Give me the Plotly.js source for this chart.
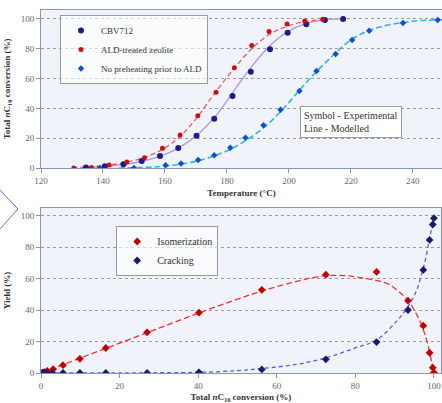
<!DOCTYPE html>
<html><head><meta charset="utf-8">
<script src="https://cdn.plot.ly/plotly-3.0.1.min.js"></script>
<style>html,body{margin:0;padding:0;background:#fff}#c{width:442px;height:403px}</style>
</head><body><div id="c"></div>
<script>
// ---- Top chart: conversion vs temperature (experimental points)
const cbvT = [134.5,140.6,146.6,152.5,158.4,164.3,170.2,175.9,181.8,187.7,193.9,199.6,205.6,211.6,217.5];
const cbvY = [0.4,1.1,2.5,4.7,8.0,13.4,21.7,33.1,48.3,64.6,79.7,90.8,96.4,99.3,100];
const aldT = [130.6,136.3,142.0,147.7,153.4,159.2,164.9,170.6,176.5,182.4,188.0,193.6,199.4,205.1,210.9];
const aldY = [0,0.4,2.0,4.0,6.9,13.2,22.1,35.1,50.8,67.3,82.1,91.5,96.6,98.7,99.8];
const npT = [139.0,150.0,160.2,165.2,170.7,175.9,181.1,186.0,191.8,197.3,203.4,208.9,215.1,220.4,225.9,236.8,248.0];
const npY = [0,0,1.8,3.1,5.4,8.5,13.6,20.3,28.6,39.1,51.7,65.1,76.5,85.9,92.1,97.3,99.3];
// modelled lines
const cbvLT = [134,140,146,152,158,164,170,176,180,184,188,192,196,200,205,210,217];
const cbvLY = [0.4,1,2.2,4.2,7.6,13,21.5,34,45,57,68,78,86,92,96.5,99,100];
const aldLT = [130,136,142,148,154,160,165,170,176,182,188,194,200,206,211];
const aldLY = [0.3,0.8,2,4,7.5,13.5,21.5,33,50,66,80,90,95.5,98.5,99.5];
const npLT = [145,155,160,165,170,175,180,185,190,195,200,205,210,215,220,225,230,240,250];
const npLY = [0,0.5,1.3,2.6,4.5,7.5,11.5,17,24,33,44,56,67,77,86,91.5,95,98.5,99.5];
// ---- Bottom chart: yield vs conversion
const isoX = [0.3,0.8,1.6,3.1,5.6,9.9,16.5,27,40.2,56.2,72.5,85.4,93.4,97.3,98.9,99.7,100];
const isoY = [0.2,0.5,1.3,2.4,5,9,15.9,25.9,38.4,52.9,62.6,64.3,46,30.1,12.9,3.4,0.3];
const crkX = [0.4,0.8,1.4,2.9,5.6,9.9,16.5,27,40.2,56.2,72.5,85.4,93.4,97.3,98.9,99.7,100];
const crkY = [0,0,0,0,0,0,0,0,0.4,2.3,8.7,19.7,40.1,65.6,84.7,94.5,98.5];
const isoLX = [0,10,20,30,40,50,56,63,71,77,83,88,91,93.3,95,96.7,98,98.8,99.5,100];
const isoLY = [0,9.5,19,28.5,38,47,52,57,61.5,62,60,57,52,46.5,40,31.6,22,14.6,6,0];
const crkLX = [0,20,40,50,56,65,72.5,80,85.4,90.8,93.4,95.5,96.7,98,98.8,99.5,100];
const crkLY = [0,0.1,0.4,1.5,2.8,5.5,9.6,16,21,33.8,42.3,52,61.3,74,84.7,93,98.5];

const serif = '"Liberation Serif", "DejaVu Serif", serif';
const traces = [
  {x:cbvLT,y:cbvLY,mode:'lines',line:{color:'#a898e0',width:1.3,shape:'spline'},showlegend:false,xaxis:'x',yaxis:'y',hoverinfo:'skip'},
  {x:aldLT,y:aldLY,mode:'lines',line:{color:'#f05a5a',width:1.3,dash:'5px,3px',shape:'spline'},showlegend:false,xaxis:'x',yaxis:'y',hoverinfo:'skip'},
  {x:npLT,y:npLY,mode:'lines',line:{color:'#2fb4e0',width:1.6,dash:'6px,3px',shape:'spline'},showlegend:false,xaxis:'x',yaxis:'y',hoverinfo:'skip'},
  {x:cbvT,y:cbvY,mode:'markers',name:'CBV712',marker:{color:'#1c1c8a',size:6,symbol:'circle'},xaxis:'x',yaxis:'y',legend:'legend'},
  {x:aldT,y:aldY,mode:'markers',name:'ALD-treated zeolite',marker:{color:'#c81010',size:5,symbol:'circle'},xaxis:'x',yaxis:'y',legend:'legend'},
  {x:npT,y:npY,mode:'markers',name:'No preheating prior to ALD',marker:{color:'#1050d0',size:5,symbol:'diamond'},xaxis:'x',yaxis:'y',legend:'legend'},
  {x:isoLX,y:isoLY,mode:'lines',line:{color:'#f03030',width:1.3,dash:'6px,3px',shape:'spline'},showlegend:false,xaxis:'x2',yaxis:'y2',hoverinfo:'skip'},
  {x:crkLX,y:crkLY,mode:'lines',line:{color:'#5c5ce0',width:1.3,dash:'4px,3px',shape:'spline'},showlegend:false,xaxis:'x2',yaxis:'y2',hoverinfo:'skip'},
  {x:isoX,y:isoY,mode:'markers',name:'Isomerization',marker:{color:'#c00000',size:6,symbol:'diamond'},xaxis:'x2',yaxis:'y2',legend:'legend2'},
  {x:crkX,y:crkY,mode:'markers',name:'Cracking',marker:{color:'#1a1a6a',size:6,symbol:'diamond'},xaxis:'x2',yaxis:'y2',legend:'legend2'}
];

const axBase = {
  showline:true, mirror:true, linecolor:'#8596bb', linewidth:1,
  ticks:'outside', ticklen:4, tickcolor:'#8596bb',
  tickfont:{family:serif,size:9,color:'#666'},
  zeroline:false, showgrid:false
};
const yBase = Object.assign({}, axBase, {showgrid:true, gridcolor:'#9a9a9a', griddash:'dot', gridwidth:1, dtick:20, tick0:0});
const titleFont = {family:serif,size:9,color:'#333',weight:'bold'};

const layout = {
  width:442, height:403,
  margin:{l:41,r:0,t:0,b:0},
  font:{family:serif},
  paper_bgcolor:'#ffffff', plot_bgcolor:'#f0f4fa',
  showlegend:true,
  xaxis: Object.assign({}, axBase, {domain:[0,1], anchor:'y', range:[120,249.4], dtick:20, tick0:120,
    title:{text:'Temperature (°C)', font:titleFont, standoff:4}}),
  yaxis: Object.assign({}, yBase, {domain:[1-168/403, 1-10/403], anchor:'x', range:[0,106],
    title:{text:'Total <i>n</i>C<sub>10</sub> conversion (%)', font:titleFont, standoff:8}}),
  xaxis2: Object.assign({}, axBase, {domain:[0,0.9975], anchor:'y2', range:[0,101.8], dtick:20, tick0:0,
    title:{text:'Total <i>n</i>C<sub>10</sub> conversion (%)', font:titleFont, standoff:6}}),
  yaxis2: Object.assign({}, yBase, {domain:[1-373/403, 1-208/403], anchor:'x2', range:[0,105],
    title:{text:'Yield (%)', font:titleFont, standoff:8}}),
  legend:{x:(60-41)/401, y:1-15/403, xanchor:'left', yanchor:'top',
    bgcolor:'rgba(255,255,255,0.6)', bordercolor:'#999', borderwidth:1,
    font:{family:serif,size:9,color:'#333'}, itemwidth:30, tracegroupgap:0},
  legend2:{x:(116-41)/400, y:1-226/403, xanchor:'left', yanchor:'top',
    bgcolor:'rgba(255,255,255,0.6)', bordercolor:'#999', borderwidth:1,
    font:{family:serif,size:10,color:'#333'}, itemwidth:30},
  annotations:[
    {xref:'paper', yref:'paper', x:(300-41)/401, y:1-106/403, xanchor:'left', yanchor:'top',
     text:'Symbol - Experimental<br>Line - Modelled', showarrow:false, align:'left',
     font:{family:serif,size:10,color:'#333'}, bgcolor:'#ffffff', bordercolor:'#999', borderwidth:1, borderpad:3}
  ],
  shapes:[
    {type:'path', xref:'paper', yref:'paper',
     path:'M '+(-41/401)+' '+(1-190/403)+' L '+(-23/401)+' '+(1-209/403)+' L '+(-41/401)+' '+(1-229/403),
     line:{color:'#5a78c0', width:1}}
  ]
};
Plotly.newPlot('c', traces, layout, {displayModeBar:false, staticPlot:true});
</script></body></html>
